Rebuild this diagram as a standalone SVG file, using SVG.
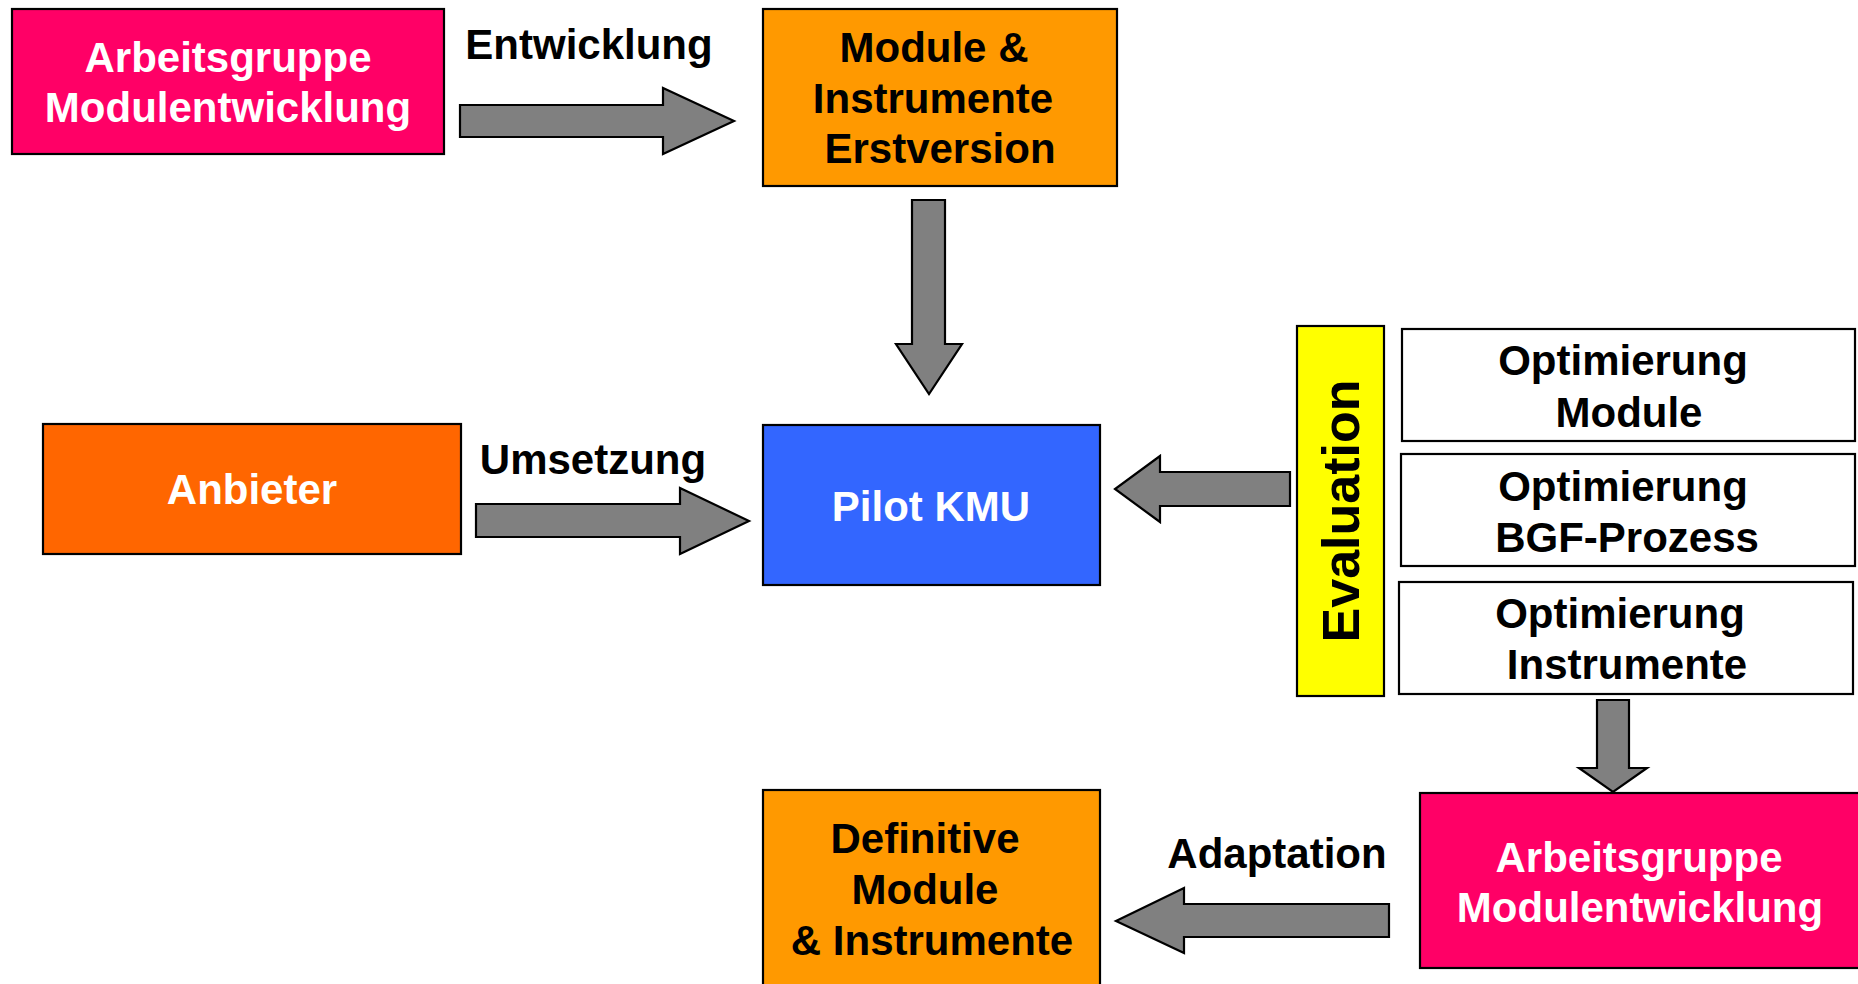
<svg xmlns="http://www.w3.org/2000/svg" width="1858" height="984" viewBox="0 0 1858 984">
<style>
text{font-family:"Liberation Sans",Arial,Helvetica,sans-serif;font-weight:bold;font-size:42px;text-anchor:middle}
.w{fill:#FFFFFF}
.b{fill:#000000}
.box{stroke:#000000;stroke-width:2.2}
.arr{fill:#808080;stroke:#000000;stroke-width:2.2;stroke-linejoin:miter}
</style>
<rect width="1858" height="984" fill="#FFFFFF"/>
<g id="ag1">
<rect class="box" x="12" y="9" width="432" height="145" fill="#FF0066"/>
<text class="w" x="228" y="72">Arbeitsgruppe</text>
<text class="w" x="228" y="122">Modulentwicklung</text>
</g>
<g id="erstversion">
<rect class="box" x="763" y="9" width="354" height="177" fill="#FF9900"/>
<text class="b" x="934" y="62">Module &amp;</text>
<text class="b" x="933" y="113">Instrumente</text>
<text class="b" x="940" y="163">Erstversion</text>
</g>
<g id="anbieter">
<rect class="box" x="43" y="424" width="418" height="130" fill="#FF6600"/>
<text class="w" x="252" y="504">Anbieter</text>
</g>
<g id="pilot">
<rect class="box" x="763" y="425" width="337" height="160" fill="#3366FF"/>
<text class="w" x="931" y="521">Pilot KMU</text>
</g>
<g id="evaluation">
<rect class="box" x="1297" y="326" width="87" height="370" fill="#FFFF00"/>
<text class="b" transform="translate(1359,511) rotate(-90)" x="0" y="0" style="font-size:52px">Evaluation</text>
</g>
<g id="opt-module">
<rect class="box" x="1402" y="329" width="453" height="112" fill="#FFFFFF"/>
<text class="b" x="1623" y="375">Optimierung</text>
<text class="b" x="1629" y="427">Module</text>
</g>
<g id="opt-bgf">
<rect class="box" x="1401" y="454" width="454" height="112" fill="#FFFFFF"/>
<text class="b" x="1623" y="501">Optimierung</text>
<text class="b" x="1627" y="552">BGF-Prozess</text>
</g>
<g id="opt-instr">
<rect class="box" x="1399" y="582" width="454" height="112" fill="#FFFFFF"/>
<text class="b" x="1620" y="628">Optimierung</text>
<text class="b" x="1627" y="679">Instrumente</text>
</g>
<g id="definitive">
<rect class="box" x="763" y="790" width="337" height="210" fill="#FF9900"/>
<text class="b" x="925" y="853">Definitive</text>
<text class="b" x="925" y="904">Module</text>
<text class="b" x="932" y="955">&amp; Instrumente</text>
</g>
<g id="ag2">
<rect class="box" x="1420" y="793" width="445" height="175" fill="#FF0066"/>
<text class="w" x="1639" y="872">Arbeitsgruppe</text>
<text class="w" x="1640" y="922">Modulentwicklung</text>
</g>
<g id="connectors">
<polygon class="arr" points="460,105 663,105 663,88 734,121 663,154 663,137 460,137"/>
<text class="b" x="589" y="59">Entwicklung</text>
<polygon class="arr" points="912,200 945,200 945,344 962,344 929,394 896,344 912,344"/>
<polygon class="arr" points="476,504 680,504 680,488 749,521 680,554 680,537 476,537"/>
<text class="b" x="593" y="474">Umsetzung</text>
<polygon class="arr" points="1290,472 1160,472 1160,456 1115,489 1160,522 1160,506 1290,506"/>
<polygon class="arr" points="1597,700 1629,700 1629,768 1647,768 1613,792 1579,768 1597,768"/>
<polygon class="arr" points="1389,904 1184,904 1184,888 1116,921 1184,953 1184,937 1389,937"/>
<text class="b" x="1277" y="868">Adaptation</text>
</g>
</svg>
